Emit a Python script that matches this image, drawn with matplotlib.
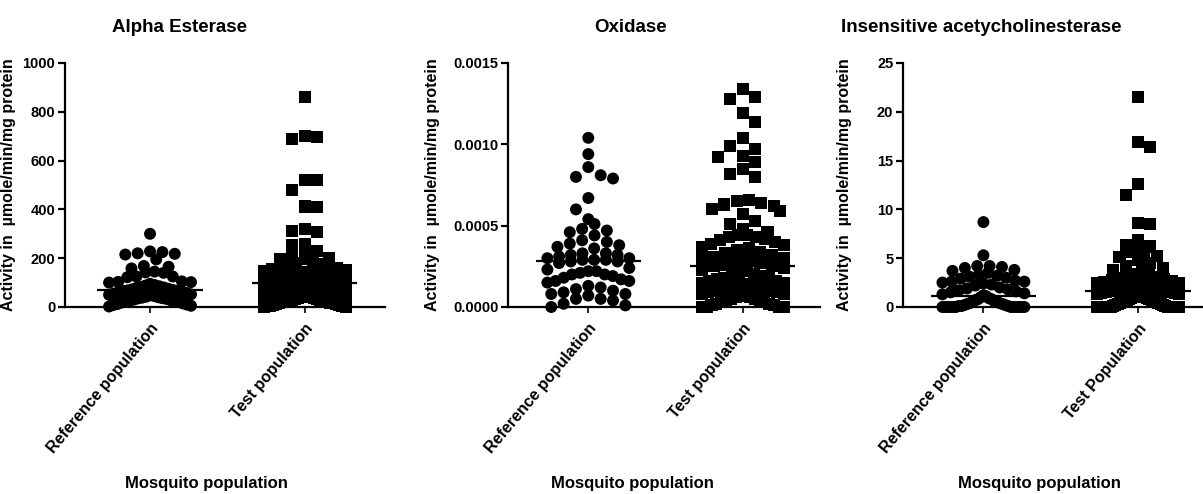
import numpy as np
import matplotlib
matplotlib.use("Agg")
from matplotlib import pyplot as plt

plt.rcParams['font.family'] = ['Liberation Sans', 'DejaVu Sans']
plt.rcParams['font.weight'] = 'bold'

# ---- data ----
titles = ["Alpha Esterase", "Oxidase", "Insensitive acetycholinesterase"]
xticklabels = [["Reference population", "Test population"],
               ["Reference population", "Test population"],
               ["Reference population", "Test Population"]]
ylabel = "Activity in  \u00b5mole/min/mg protein"
xlabel = "Mosquito population"

yticks = [[0, 200, 400, 600, 800, 1000],
          [0.0, 0.0005, 0.0010, 0.0015],
          [0, 5, 10, 15, 20, 25]]
ytick_fmt = ["{:.0f}", "{:.4f}", "{:.0f}"]

alpha_ref = [300, 228, 225, 218, 215, 220, 195, 168, 165, 158, 145, 142, 140,
             125, 125, 122, 105, 103, 102, 100, 95, 90, 88, 85, 82, 80, 78, 75,
             72, 70, 68, 66, 65, 64, 60, 58, 55, 52, 50, 48, 45, 42, 40, 38, 36,
             35, 33, 30, 28, 26, 25, 22, 20, 18, 15, 12, 10, 8, 5, 2]
alpha_test = [860, 700, 695, 690, 520, 520, 480, 412, 410, 320, 310, 308, 258,
              255, 235, 228, 205, 200, 198, 195, 190, 180, 175, 170, 165, 160,
              158, 155, 150, 148, 145, 140, 135, 130, 128, 125, 120, 118, 115,
              112, 110, 108, 105, 102, 100, 98, 95, 92, 90, 88, 85, 82, 80, 78,
              75, 72, 70, 68, 65, 62, 60, 58, 55, 52, 50, 48, 45, 42, 40, 38, 36,
              34, 32, 30, 28, 26, 25, 24, 22, 20, 18, 16, 15, 14, 12, 10, 8, 6,
              5, 4, 2, 0]

oxid_ref = [1.04, 0.94, 0.86, 0.81, 0.80, 0.79, 0.67, 0.60, 0.54, 0.51, 0.48,
            0.47, 0.46, 0.44, 0.41, 0.40, 0.39, 0.38, 0.37, 0.36, 0.33, 0.33,
            0.32, 0.32, 0.31, 0.30, 0.30, 0.29, 0.29, 0.29, 0.28, 0.28, 0.27,
            0.24, 0.23, 0.22, 0.22, 0.21, 0.20, 0.20, 0.19, 0.18, 0.17, 0.16,
            0.16, 0.15, 0.13, 0.12, 0.11, 0.10, 0.09, 0.08, 0.08, 0.07, 0.05,
            0.05, 0.04, 0.02, 0.01, 0.0]
oxid_test = [1.34, 1.29, 1.28, 1.19, 1.14, 1.04, 0.99, 0.97, 0.93, 0.92, 0.89,
             0.85, 0.82, 0.80, 0.66, 0.65, 0.64, 0.63, 0.62, 0.60, 0.59, 0.57,
             0.53, 0.51, 0.48, 0.46, 0.44, 0.44, 0.43, 0.43, 0.42, 0.41, 0.40,
             0.39, 0.38, 0.37, 0.36, 0.35, 0.34, 0.33, 0.32, 0.31, 0.30, 0.30,
             0.29, 0.28, 0.27, 0.26, 0.25, 0.25, 0.24, 0.23, 0.22, 0.21, 0.20,
             0.20, 0.19, 0.18, 0.18, 0.17, 0.16, 0.16, 0.15, 0.15, 0.14, 0.14,
             0.13, 0.13, 0.12, 0.12, 0.11, 0.11, 0.10, 0.10, 0.09, 0.09, 0.08,
             0.08, 0.07, 0.07, 0.06, 0.06, 0.05, 0.05, 0.04, 0.04, 0.03, 0.03,
             0.02, 0.02, 0.01, 0.01, 0.0, 0.0, 0.0, 0.0]
oxid_ref = [v * 1e-3 for v in oxid_ref]
oxid_test = [v * 1e-3 for v in oxid_test]

ache_ref = [8.7, 5.3, 4.2, 4.2, 4.1, 4.0, 3.8, 3.7, 3.5, 3.3, 3.2, 3.1, 3.0,
            2.9, 2.7, 2.6, 2.6, 2.5, 2.4, 2.3, 2.2, 2.0, 1.9, 1.8, 1.7, 1.6,
            1.5, 1.4, 1.3, 1.2, 1.1, 1.0, 0.9, 0.8, 0.8, 0.7, 0.6, 0.5, 0.5,
            0.4, 0.4, 0.3, 0.3, 0.2, 0.2, 0.1, 0.1, 0.1, 0.0, 0.0, 0.0, 0.0,
            0.0, 0.0, 0.0, 0.0, 0.0, 0.0, 0.0, 0.0]
ache_test = [21.5, 16.9, 16.4, 12.6, 11.5, 8.6, 8.5, 6.9, 6.3, 6.2, 5.7, 5.6,
             5.2, 5.1, 4.8, 4.5, 4.2, 4.0, 3.8, 3.6, 3.4, 3.3, 3.2, 3.1, 3.0,
             2.9, 2.8, 2.7, 2.6, 2.5, 2.5, 2.4, 2.3, 2.2, 2.1, 2.0, 2.0, 1.9,
             1.9, 1.8, 1.8, 1.7, 1.7, 1.6, 1.6, 1.5, 1.5, 1.4, 1.4, 1.3, 1.3,
             1.2, 1.2, 1.1, 1.1, 1.0, 1.0, 0.9, 0.9, 0.8, 0.8, 0.7, 0.7, 0.6,
             0.6, 0.5, 0.5, 0.4, 0.4, 0.3, 0.3, 0.2, 0.2, 0.1, 0.1, 0.0, 0.0,
             0.0, 0.0, 0.0, 0.0, 0.0, 0.0, 0.0, 0.0, 0.0, 0.0, 0.0]

panels = [(alpha_ref, alpha_test), (oxid_ref, oxid_test), (ache_ref, ache_test)]


def prism_x(vals, center, row_h, step, half_w, d):
    """Prism style column scatter.
    Dense rows are spread evenly across the column, sparse points take the
    nearest free slot so they do not sit on top of each other."""
    vals = np.asarray(vals, float)
    rows = np.floor(vals / row_h + 1e-9).astype(int)
    x = np.zeros(len(vals))
    placed = []
    flip = 1
    for r in sorted(np.unique(rows), reverse=True):
        idx = np.where(rows == r)[0]
        idx = idx[np.argsort(vals[idx], kind='stable')]
        n = len(idx)
        if n >= 4:
            s = min(step, 2 * half_w / (n - 1))
            offs = (np.arange(n) - (n - 1) / 2) * s
            pos = offs[np.argsort(-np.abs(offs), kind='stable')]
            x[idx] = center + pos
            placed += [(p, vals[j]) for p, j in zip(pos, idx)]
            continue
        for j in idx[::-1]:
            cands = [0]
            for k in range(1, 4):
                cands += [flip * k, -flip * k]
            chosen = cands[-1]
            for k in cands:
                p = k * step
                if all(abs(p - px) > 0.9 * step or abs(vals[j] - py) >= d
                       for px, py in placed):
                    chosen = k
                    break
            if chosen != 0:
                flip = -flip
            x[j] = center + chosen * step
            placed.append((chosen * step, vals[j]))
    return x


W, H = 1203, 494
fig = plt.figure(figsize=(W / 100, H / 100), dpi=100)

# axes boxes in pixels: left, right, xlim
boxes = [(65, 385, (-0.55, 1.52)), (508, 820, (-0.52, 1.5)), (903, 1203, (-0.52, 1.42))]
ax_top, ax_bot = 63, 307
title_x = [179, 631, 981]
xlabel_x = [206, 632, 1039]
ylabel_x = [16, 440, 852]

for i, (ref, test) in enumerate(panels):
    l, r, xl = boxes[i]
    ax = fig.add_axes([l / W, (H - ax_bot) / H, (r - l) / W, (ax_bot - ax_top) / H])
    ymax = yticks[i][-1]
    px = ymax / (ax_bot - ax_top)          # data units per pixel
    for k, (vals, mk) in enumerate([(ref, 'o'), (test, 's')]):
        xs = prism_x(vals, k, 12 * px, 0.08, 0.265, 12 * px)
        ax.scatter(xs, vals, s=74 if mk == 'o' else 76, marker=mk, color='black',
                   edgecolors='none', clip_on=False, zorder=3)
        med = np.median(vals)
        ax.hlines(med, k - 0.34, k + 0.34, color='black', lw=1.6, zorder=4)

    ax.set_xlim(*xl)
    ax.set_ylim(0, ymax)
    for s in ['top', 'right']:
        ax.spines[s].set_visible(False)
    ax.spines['left'].set_linewidth(1.6)
    ax.spines['bottom'].set_linewidth(1.6)
    ax.set_yticks(yticks[i])
    ax.set_yticklabels([ytick_fmt[i].format(t) for t in yticks[i]],
                       fontsize=10.5, fontweight='bold')
    ax.set_xticks([0, 1])
    ax.set_xticklabels(xticklabels[i], rotation=50, ha='right',
                       rotation_mode='anchor', fontsize=11.5, fontweight='bold')
    ax.tick_params(axis='y', length=5, width=1.6, pad=2)
    ax.tick_params(axis='x', length=4, width=1.2, pad=6)
    ax.set_ylabel(ylabel, fontsize=11.5, fontweight='bold')
    ax.yaxis.set_label_coords((ylabel_x[i] - l) / (r - l), 0.5)

    fig.text(title_x[i] / W, 1 - 27 / H, titles[i], ha='center', va='center',
             fontsize=13.5, fontweight='bold')
    fig.text(xlabel_x[i] / W, 1 - 483 / H, xlabel, ha='center', va='center',
             fontsize=12, fontweight='bold')

fig.savefig("out.png", dpi=100)
